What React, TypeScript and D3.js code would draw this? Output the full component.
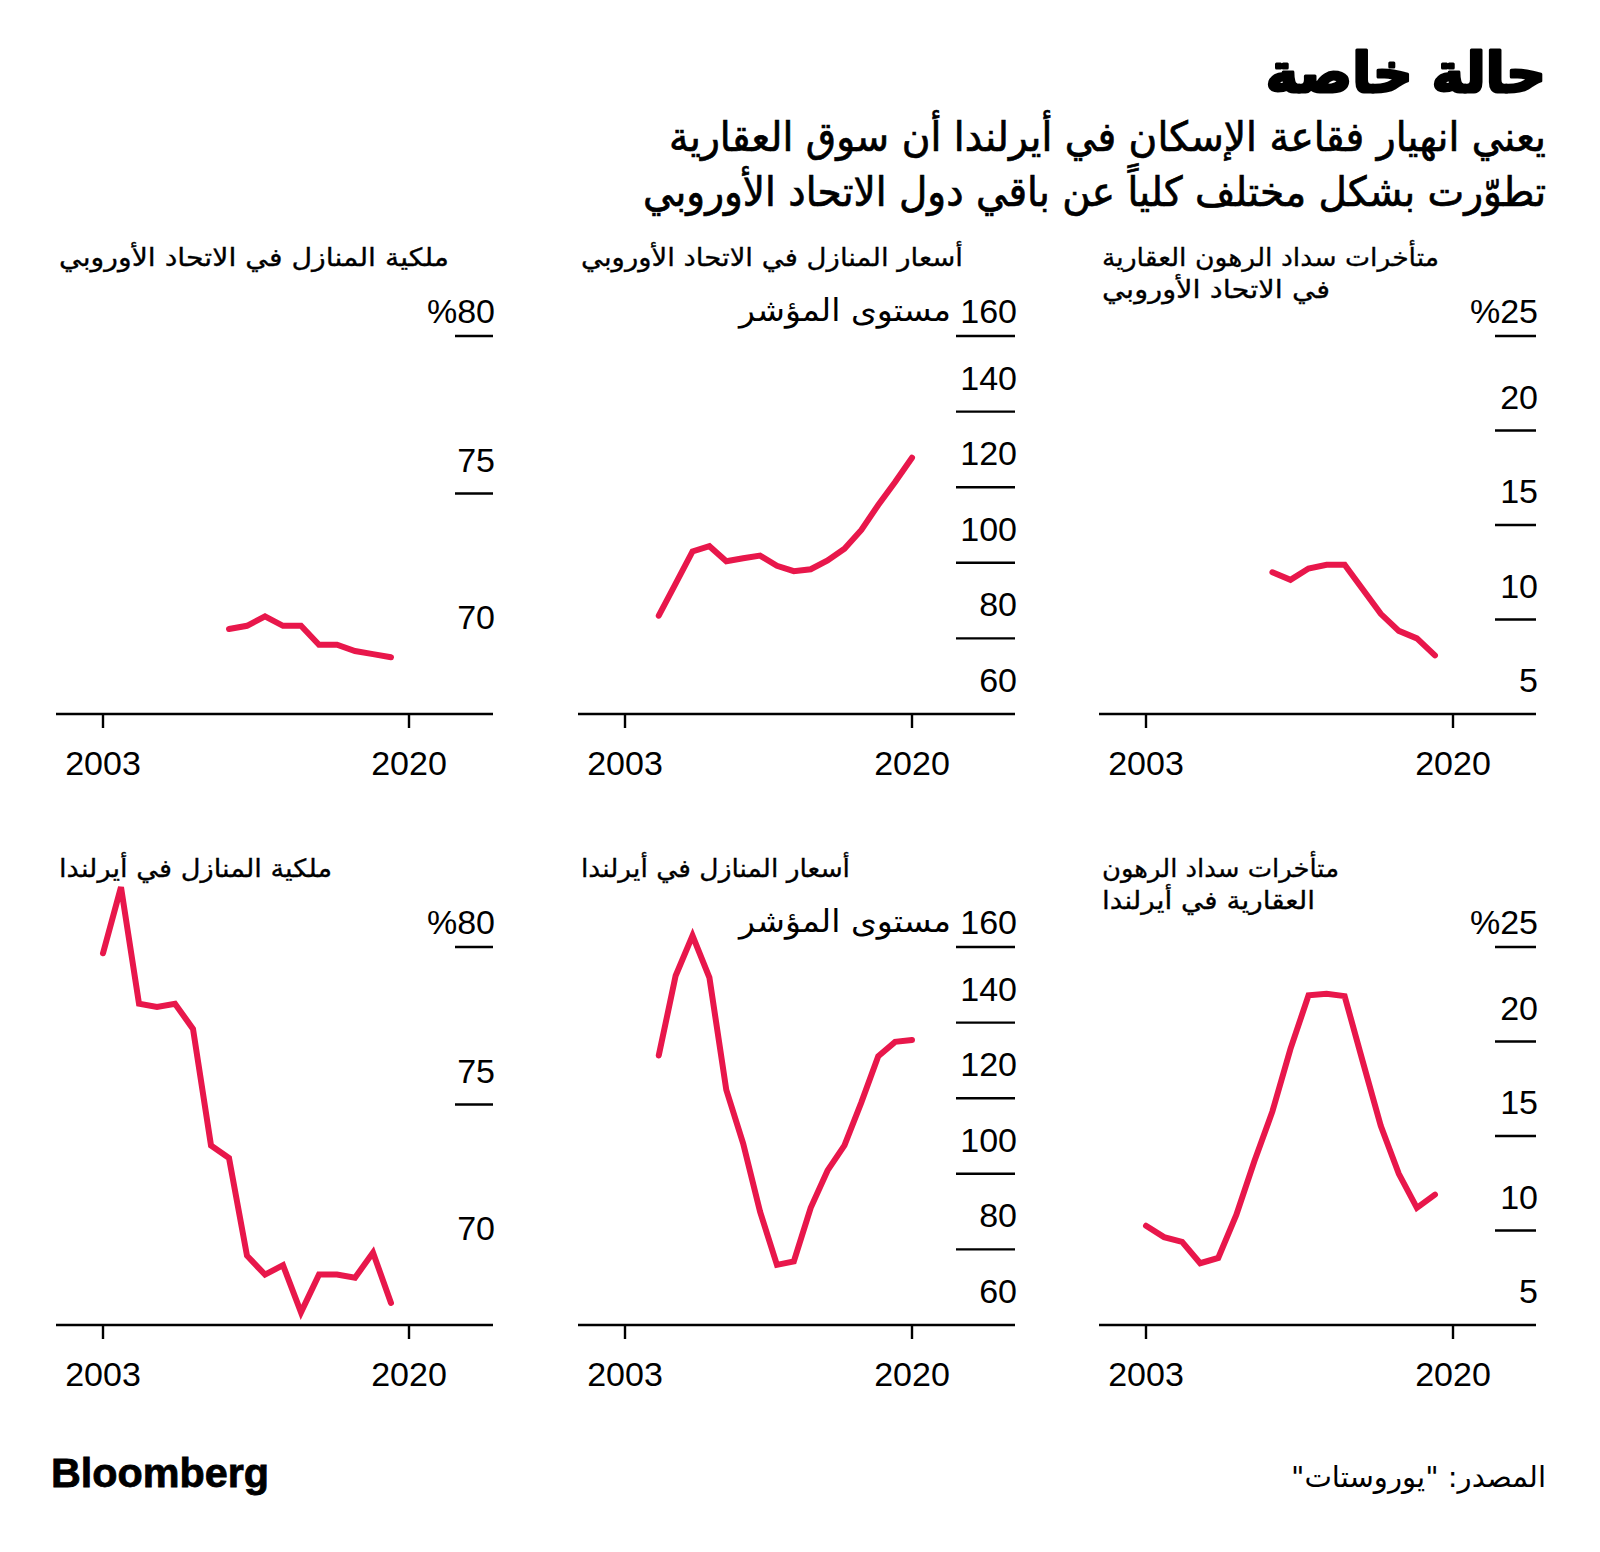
import React from 'react';
import * as d3 from 'd3';

// ---------------- data ----------------
const titleText = 'حالة خاصة';
const subtitleLines = [
  'يعني انهيار فقاعة الإسكان في أيرلندا أن سوق العقارية',
  'تطوّرت بشكل مختلف كلياً عن باقي دول الاتحاد الأوروبي',
];
const sourceText = 'المصدر: "يوروستات"';
const brandText = 'Bloomberg';
const indexUnit = 'مستوى المؤشر';

const xTickYears = [2003, 2020];
const xTickLabels = ['2003', '2020'];

const ownershipTicks = [80, 75, 70];
const ownershipTickLabels = ['%80', '75', '70'];
const ownershipNoLine = [70];
const priceTicks = [160, 140, 120, 100, 80, 60];
const priceTickLabels = ['160', '140', '120', '100', '80', '60'];
const arrearsTicks = [25, 20, 15, 10, 5];
const arrearsTickLabels = ['%25', '20', '15', '10', '5'];

const euOwnershipYears = [2010, 2011, 2012, 2013, 2014, 2015, 2016, 2017, 2018, 2019];
const euOwnership = [70.7, 70.8, 71.1, 70.8, 70.8, 70.2, 70.2, 70.0, 69.9, 69.8];

const euPriceYears = [2005, 2006, 2007, 2008, 2009, 2010, 2011, 2012, 2013, 2014, 2015, 2016, 2017, 2018, 2019, 2020];
const euPrice = [86.0, 94.5, 103.0, 104.4, 100.4, 101.2, 101.9, 99.2, 97.8, 98.3, 100.6, 103.7, 108.7, 115.3, 121.4, 127.8];

const euArrearsYears = [2010, 2011, 2012, 2013, 2014, 2015, 2016, 2017, 2018, 2019];
const euArrears = [12.5, 12.1, 12.7, 12.9, 12.9, 11.6, 10.3, 9.4, 9.0, 8.1];

const ieOwnershipYears = [2003, 2004, 2005, 2006, 2007, 2008, 2009, 2010, 2011, 2012, 2013, 2014, 2015, 2016, 2017, 2018, 2019];
const ieOwnership = [79.8, 81.9, 78.2, 78.1, 78.2, 77.4, 73.7, 73.3, 70.2, 69.6, 69.9, 68.4, 69.6, 69.6, 69.5, 70.3, 68.7];

const iePriceYears = [2005, 2006, 2007, 2008, 2009, 2010, 2011, 2012, 2013, 2014, 2015, 2016, 2017, 2018, 2019, 2020];
const iePrice = [131.3, 152.4, 163.0, 151.9, 122.2, 108.0, 90.0, 75.9, 76.8, 91.0, 100.9, 107.5, 118.9, 131.1, 134.9, 135.4];

const ieArrearsYears = [2003, 2004, 2005, 2006, 2007, 2008, 2009, 2010, 2011, 2012, 2013, 2014, 2015, 2016, 2017, 2018, 2019];
const ieArrears = [10.25, 9.65, 9.4, 8.27, 8.55, 10.82, 13.66, 16.3, 19.61, 22.44, 22.53, 22.4, 18.95, 15.54, 13.0, 11.2, 11.9];

// ---------------- layout ----------------
const RED = '#e8174b';
const NUM_FONT = "'Liberation Sans', Arial, Helvetica, sans-serif";
const AR_FONT = "'DejaVu Sans', sans-serif";

const colLeft = [56, 578, 1099];
const colSpan = [306, 287, 307];
const colTickLen = [38, 59, 41];
const panelW = 437;
const rowOffset = [0, 611];
const plotTop = 336;
const plotBottom = 714;

type PanelDef = {
  col: number;
  row: number;
  title: string[];
  titleWidths: number[];
  years: number[];
  values: number[];
  domain: [number, number];
  ticks: number[];
  tickLabels: string[];
  noLine?: number[];
  unit?: string;
};

const panels: PanelDef[] = [
  { col: 0, row: 0, title: ['ملكية المنازل في الاتحاد الأوروبي'], titleWidths: [390], years: euOwnershipYears, values: euOwnership, domain: [68, 80], ticks: ownershipTicks, tickLabels: ownershipTickLabels, noLine: ownershipNoLine },
  { col: 1, row: 0, title: ['أسعار المنازل في الاتحاد الأوروبي'], titleWidths: [382], years: euPriceYears, values: euPrice, domain: [60, 160], ticks: priceTicks, tickLabels: priceTickLabels, unit: indexUnit },
  { col: 2, row: 0, title: ['متأخرات سداد الرهون العقارية', 'في الاتحاد الأوروبي'], titleWidths: [337, 228], years: euArrearsYears, values: euArrears, domain: [5, 25], ticks: arrearsTicks, tickLabels: arrearsTickLabels },
  { col: 0, row: 1, title: ['ملكية المنازل في أيرلندا'], titleWidths: [273], years: ieOwnershipYears, values: ieOwnership, domain: [68, 80], ticks: ownershipTicks, tickLabels: ownershipTickLabels, noLine: ownershipNoLine },
  { col: 1, row: 1, title: ['أسعار المنازل في أيرلندا'], titleWidths: [269], years: iePriceYears, values: iePrice, domain: [60, 160], ticks: priceTicks, tickLabels: priceTickLabels, unit: indexUnit },
  { col: 2, row: 1, title: ['متأخرات سداد الرهون', 'العقارية في أيرلندا'], titleWidths: [237, 213], years: ieArrearsYears, values: ieArrears, domain: [5, 25], ticks: arrearsTicks, tickLabels: arrearsTickLabels },
];

function Panel({ def }: { def: PanelDef }) {
  const dy = rowOffset[def.row];
  const left = colLeft[def.col];
  const right = left + panelW;
  const x = d3.scaleLinear().domain([2003, 2020]).range([left + 47, left + 47 + colSpan[def.col]]);
  const y = d3.scaleLinear().domain(def.domain).range([plotBottom + dy, plotTop + dy]);
  const pts: [number, number][] = def.years.map((yr, i) => [yr, def.values[i]]);
  const line = d3.line<[number, number]>().x(d => x(d[0])).y(d => y(d[1]));
  const tickLen = colTickLen[def.col];
  const topVal = def.domain[1];
  const baseVal = def.domain[0];

  return (
    <g>
      {def.title.map((t, i) => (
        <text key={i} x={left + 3} y={266 + dy + i * 32} fontFamily={AR_FONT} fontSize={25} fill="#000"
          stroke="#000" strokeWidth={0.3}
          textAnchor="start" textLength={def.titleWidths[i]} lengthAdjust="spacingAndGlyphs">{t}</text>
      ))}
      {def.ticks.map((v, i) => {
        const yy = y(v);
        const isTop = v === topVal;
        const drawLine = v !== baseVal && !(def.noLine || []).includes(v);
        return (
          <g key={v}>
            {drawLine && <line x1={right - tickLen} x2={right} y1={yy} y2={yy} stroke="#000" strokeWidth={2.4} />}
            <text x={right + 2} y={yy - (isTop ? 13 : 22)} fontFamily={NUM_FONT} fontSize={34} fill="#000" textAnchor="end">{def.tickLabels[i]}</text>
          </g>
        );
      })}
      {def.unit && (
        <text x={right - 64} y={y(topVal) - 15} fontFamily={AR_FONT} fontSize={31} fill="#000" textAnchor="end"
          textLength={212} lengthAdjust="spacingAndGlyphs">{def.unit}</text>
      )}
      <line x1={left} x2={right} y1={plotBottom + dy} y2={plotBottom + dy} stroke="#000" strokeWidth={2.4} />
      {xTickYears.map((yr, i) => (
        <g key={yr}>
          <line x1={x(yr)} x2={x(yr)} y1={plotBottom + dy} y2={plotBottom + dy + 14} stroke="#000" strokeWidth={2.4} />
          <text x={x(yr)} y={plotBottom + dy + 61} fontFamily={NUM_FONT} fontSize={34} fill="#000" textAnchor="middle">{xTickLabels[i]}</text>
        </g>
      ))}
      <path d={line(pts) || ''} fill="none" stroke={RED} strokeWidth={6} strokeLinecap="round" strokeLinejoin="miter" />
    </g>
  );
}

export default function App() {
  return (
    <svg width={1600} height={1552} viewBox="0 0 1600 1552" style={{ position: 'absolute', left: 0, top: 0, background: '#fff' }}>
      <rect x={0} y={0} width={1600} height={1552} fill="#fff" />
      <text x={1546} y={92} fontFamily={AR_FONT} fontWeight="bold" fontSize={55} fill="#000" stroke="#000" strokeWidth={3}
        strokeLinejoin="round" textAnchor="end">{titleText}</text>
      <text x={1546} y={151} fontFamily={AR_FONT} fontSize={41} fill="#000" stroke="#000" strokeWidth={0.7} textAnchor="end"
        textLength={877} lengthAdjust="spacingAndGlyphs">{subtitleLines[0]}</text>
      <text x={1546} y={206} fontFamily={AR_FONT} fontSize={41} fill="#000" stroke="#000" strokeWidth={0.7} textAnchor="end"
        textLength={903} lengthAdjust="spacingAndGlyphs">{subtitleLines[1]}</text>
      {panels.map((p, i) => <Panel key={i} def={p} />)}
      <text x={51} y={1487} fontFamily={NUM_FONT} fontWeight="bold" fontSize={41} fill="#000" stroke="#000" strokeWidth={0.8}
        textLength={218} lengthAdjust="spacingAndGlyphs">{brandText}</text>
      <text x={1546} y={1487} fontFamily={AR_FONT} fontSize={29} fill="#000" textAnchor="end"
        textLength={255} lengthAdjust="spacingAndGlyphs">{'\u200F' + sourceText + '\u200F'}</text>
    </svg>
  );
}
